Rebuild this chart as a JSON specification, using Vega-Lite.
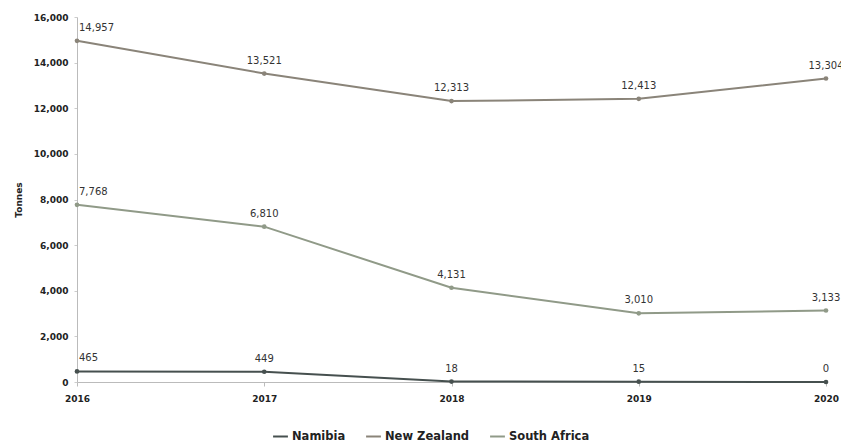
{
  "$schema": "https://vega.github.io/schema/vega-lite/v6.json",
  "width": 749,
  "height": 365,
  "autosize": {"type": "none"},
  "padding": {"left": 77, "top": 17, "right": 15, "bottom": 65},
  "background": "white",
  "config": {"view": {"stroke": null}, "font": "DejaVu Sans"},
  "data": {
    "values": [
      {"year": "2016", "country": "Namibia", "tonnes": 465},
      {"year": "2017", "country": "Namibia", "tonnes": 449},
      {"year": "2018", "country": "Namibia", "tonnes": 18},
      {"year": "2019", "country": "Namibia", "tonnes": 15},
      {"year": "2020", "country": "Namibia", "tonnes": 0},
      {"year": "2016", "country": "New Zealand", "tonnes": 14957},
      {"year": "2017", "country": "New Zealand", "tonnes": 13521},
      {"year": "2018", "country": "New Zealand", "tonnes": 12313},
      {"year": "2019", "country": "New Zealand", "tonnes": 12413},
      {"year": "2020", "country": "New Zealand", "tonnes": 13304},
      {"year": "2016", "country": "South Africa", "tonnes": 7768},
      {"year": "2017", "country": "South Africa", "tonnes": 6810},
      {"year": "2018", "country": "South Africa", "tonnes": 4131},
      {"year": "2019", "country": "South Africa", "tonnes": 3010},
      {"year": "2020", "country": "South Africa", "tonnes": 3133}
    ]
  },
  "encoding": {
    "x": {
      "field": "year", "type": "ordinal",
      "scale": {"type": "point", "padding": 0},
      "axis": {"title": null, "labelAngle": 0, "labelFontWeight": "bold", "labelFontSize": 9, "labelColor": "#222", "domainColor": "#bbb", "tickColor": "#bbb", "tickSize": 4, "labelPadding": 8, "grid": false}
    },
    "y": {
      "field": "tonnes", "type": "quantitative",
      "scale": {"domain": [0, 16000]},
      "axis": {"title": "Tonnes", "titleFontSize": 9, "titleFontWeight": "bold", "titleColor": "#222", "titlePadding": 10, "values": [0,2000,4000,6000,8000,10000,12000,14000,16000], "format": ",d", "labelFontWeight": "bold", "labelFontSize": 9, "labelColor": "#222", "domainColor": "#bbb", "tickColor": "#ccc", "tickSize": 3, "labelPadding": 6, "grid": false}
    },
    "color": {
      "field": "country", "type": "nominal",
      "scale": {"domain": ["Namibia", "New Zealand", "South Africa"], "range": ["#46504f", "#8a8479", "#909a88"]},
      "legend": {"title": null, "orient": "none", "legendX": 195, "legendY": 411, "direction": "horizontal", "symbolType": "stroke", "symbolStrokeWidth": 2, "symbolSize": 220, "labelFontSize": 11.5, "labelFontWeight": "bold", "labelColor": "#222", "columnPadding": 16, "labelOffset": 3}
    }
  },
  "layer": [
    {"mark": {"type": "line", "strokeWidth": 2}},
    {"mark": {"type": "circle", "size": 22, "opacity": 1}},
    {"transform": [{"filter": "datum.year != '2016'"}], "mark": {"type": "text", "dy": -13, "fontSize": 10, "color": "#333"}, "encoding": {"text": {"field": "tonnes", "type": "quantitative", "format": ","}, "color": {"value": "#333"}}},
    {"transform": [{"filter": "datum.year == '2016'"}], "mark": {"type": "text", "dy": -13, "dx": 2, "align": "left", "fontSize": 10, "color": "#333"}, "encoding": {"text": {"field": "tonnes", "type": "quantitative", "format": ","}, "color": {"value": "#333"}}}
  ]
}
